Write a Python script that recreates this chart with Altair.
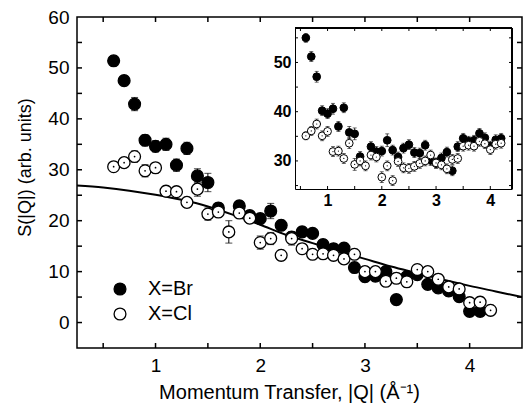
import altair as alt
import pandas as pd

F = "Liberation Sans"

# ---------------- data ----------------
q = [0.6, 0.7, 0.8, 0.9, 1.0, 1.1, 1.2, 1.3, 1.4, 1.5, 1.6, 1.7, 1.8, 1.9, 2.0, 2.1, 2.2, 2.3, 2.4,
     2.5, 2.6, 2.7, 2.8, 2.9, 3.0, 3.1, 3.2, 3.3, 3.4, 3.5, 3.6, 3.7, 3.8, 3.9, 4.0, 4.1, 4.2]

main_br = [51.4, 47.5, 42.9, 35.8, 34.6, 35.0, 30.9, 34.2, 28.8, 27.5, 22.5, None, 22.9, 21.0, 20.4,
           21.9, 19.1, 16.8, 17.8, 17.5, 15.3, 14.5, 14.6, 10.8, 9.0, 9.1, 10.0, 4.5, 9.0, 9.4, 7.5,
           6.8, 6.2, 5.1, 2.2, 2.2, None]
main_br_err = [1.0, 1.0, 1.3, 1.1, 1.1, 1.2, 1.2, 1.2, 1.4, 1.8, 1.0, None, 1.0, 1.0, 1.0, 1.5, 1.0,
               1.0, 1.0, 1.0, 1.0, 1.0, 1.0, 1.0, 1.0, 1.0, 1.0, 1.0, 1.0, 1.0, 1.0, 1.0, 1.0, 1.0,
               1.0, 1.0, None]
main_cl = [30.6, 31.4, 32.6, 29.8, 30.4, 25.8, 25.7, 23.6, 26.2, 21.3, 21.7, 17.8, 21.5, 20.5, 15.7,
           16.5, 13.2, 16.5, 14.5, 13.4, 13.5, 13.2, 12.5, 13.4, 10.0, 10.0, 8.1, 8.7, 8.0, 10.4,
           10.0, 8.5, 7.0, 6.6, 3.9, 4.0, 2.4]
main_cl_err = [0.8, 0.9, 1.1, 1.2, 1.0, 1.0, 1.0, 1.0, 1.4, 1.2, 1.0, 2.2, 1.0, 1.0, 1.3, 1.2, 1.0,
               1.3, 1.0, 1.0, 1.0, 1.0, 1.0, 1.0, 1.0, 1.0, 1.0, 1.0, 1.0, 1.0, 1.0, 1.0, 1.0, 1.0,
               1.0, 1.0, 1.0]

inset_br = [55.0, 51.2, 47.1, 40.2, 39.6, 40.6, 37.0, 40.8, 35.8, 35.5, 30.9, None, 32.9, 31.9, 32.0,
            34.2, 32.2, 30.8, 32.6, 33.3, 31.7, 31.6, 33.2, 30.1, 29.5, 30.6, 31.8, 28.0, 32.9, 34.6,
            34.0, 34.2, 35.6, 34.7, 33.0, 34.3, 34.6]
inset_br_err = [0.9, 1.0, 1.1, 1.0, 1.0, 1.1, 1.0, 1.0, 1.2, 1.2, 1.0, None, 1.0, 1.0, 1.0, 1.3, 1.0,
                1.0, 1.0, 1.0, 1.0, 1.0, 1.0, 1.0, 1.0, 1.0, 1.0, 1.0, 1.0, 1.0, 1.0, 1.0, 1.0, 1.0,
                1.0, 1.0, 1.0]
inset_cl = [35.1, 36.1, 37.5, 35.1, 36.0, 31.9, 32.0, 30.5, 33.6, 29.3, 30.0, 29.0, 31.2, 30.8, 26.7,
            29.0, 26.0, 29.9, 28.6, 28.5, 28.9, 29.5, 30.0, 31.2, 29.6, 29.2, 28.4, 30.3, 30.5, 33.0,
            33.2, 33.0, 34.0, 33.5, 32.3, 33.4, 33.6]
inset_cl_err = [0.8, 0.9, 1.0, 1.0, 1.0, 1.0, 1.0, 1.0, 1.1, 1.2, 1.0, 1.0, 1.0, 1.0, 1.1, 1.0, 1.0,
                1.0, 1.0, 1.0, 1.0, 1.0, 1.0, 1.0, 1.0, 1.0, 1.0, 1.0, 1.0, 1.0, 1.0, 1.0, 1.0, 1.0,
                1.0, 1.0, 1.0]

fit_q = [0.25, 0.5, 0.75, 1.0, 1.25, 1.5, 1.75, 2.0, 2.25, 2.5, 2.75, 3.0, 3.25, 3.5, 3.75, 4.0,
         4.25, 4.5]
fit_s = [26.9, 26.5, 25.9, 25.1, 24.1, 22.8, 21.1, 19.2, 17.2, 15.6, 14.0, 12.5, 11.0, 9.7, 8.4,
         7.2, 6.1, 5.0]

series_names = ["X=Br", "X=Cl"]

main_x_labels = [1, 2, 3, 4]
main_y_labels = [0, 10, 20, 30, 40, 50, 60]
main_x_ticks = [0.5, 1.0, 1.5, 2.0, 2.5, 3.0, 3.5, 4.0]
main_y_ticks = [0, 5, 10, 15, 20, 25, 30, 35, 40, 45, 50, 55]
inset_x_labels = [1, 2, 3, 4]
inset_y_labels = [30, 40, 50]
inset_x_ticks = [0.5, 1.0, 1.5, 2.0, 2.5, 3.0, 3.5, 4.0]
inset_y_ticks = [25, 30, 35, 40, 45, 50, 55]


def build(vals_br, err_br, vals_cl, err_cl):
    rows = []
    for name, vals, errs in [(series_names[0], vals_br, err_br), (series_names[1], vals_cl, err_cl)]:
        for qq, v, e in zip(q, vals, errs):
            if v is None:
                continue
            rows.append({"q": qq, "s": v, "lo": v - e, "hi": v + e, "series": name,
                         "k": len(rows)})
    return pd.DataFrame(rows)


main_df = build(main_br, main_br_err, main_cl, main_cl_err)
inset_df = build(inset_br, inset_br_err, inset_cl, inset_cl_err)
fit_df = pd.DataFrame({"q": fit_q, "s": fit_s})

W, H = 445, 331
IX0, IX1, IY0, IY1 = 218, 435, 11, 172   # inset frame inside the plot area (pixels)

mx = alt.Scale(domain=[0.25, 4.5], nice=False, zero=False)
my = alt.Scale(domain=[-5, 60], nice=False, zero=False)
ix = alt.Scale(domain=[0.4, 4.4], range=[IX0, IX1], nice=False, zero=False)
iy = alt.Scale(domain=[24.3, 57], range=[IY1, IY0], nice=False, zero=False)

fill_scale = alt.Scale(domain=series_names, range=["black", "white"])

# ---------------- main layer ----------------
main_x_axis = alt.Axis(values=main_x_labels, format="d", ticks=False, domain=False, grid=False,
                       labelFont=F, labelFontSize=19, labelColor="black", labelPadding=8,
                       title="Momentum Transfer, |Q| (Å⁻¹)", titleFont=F, titleFontSize=20,
                       titleFontWeight="normal", titleColor="black",
                       titleX=212, titleY=44, titleBaseline="middle")
main_y_axis = alt.Axis(values=main_y_labels, ticks=False, domain=False, grid=False,
                       labelFont=F, labelFontSize=19, labelColor="black", labelPadding=8,
                       title="S(|Q|) (arb. units)", titleFont=F, titleFontSize=18,
                       titleFontWeight="normal", titleColor="black",
                       titleX=-52, titleY=150, titleBaseline="middle", titleAngle=270)

base_main = alt.Chart(main_df)
main_rules = base_main.mark_rule(color="black", strokeWidth=1).encode(
    x=alt.X("q:Q", scale=mx, axis=main_x_axis),
    y=alt.Y("lo:Q", scale=my, axis=main_y_axis),
    y2="hi:Q")
main_caps_hi = base_main.mark_tick(orient="horizontal", size=7, thickness=1, color="black").encode(
    x="q:Q", y="hi:Q")
main_caps_lo = base_main.mark_tick(orient="horizontal", size=7, thickness=1, color="black").encode(
    x="q:Q", y="lo:Q")
fit_line = alt.Chart(fit_df).mark_line(color="black", strokeWidth=2, interpolate="monotone").encode(
    x="q:Q", y="s:Q")
main_pts = base_main.mark_circle(size=140, stroke="black", strokeWidth=1.3, opacity=1).encode(
    x="q:Q", y="s:Q",
    fill=alt.Fill("series:N", scale=fill_scale,
                  legend=alt.Legend(title=None, orient="none", legendX=33, legendY=262,
                                    symbolType="circle", symbolSize=140,
                                    symbolStrokeColor="black", symbolStrokeWidth=1.3,
                                    symbolOpacity=1,
                                    labelFont=F, labelFontSize=20, labelColor="black",
                                    labelOffset=18, rowPadding=5, padding=0)),
    order="k:Q")
main_dots = alt.Chart(main_df).transform_filter(alt.datum.series == "X=Cl").mark_circle(
    size=3, color="black", opacity=1).encode(x="q:Q", y="s:Q")

mxt = alt.Chart(pd.DataFrame({"t": main_x_ticks}))
myt = alt.Chart(pd.DataFrame({"t": main_y_ticks}))
tk = dict(color="black", strokeWidth=1.5)
ticks_bottom = mxt.mark_rule(**tk).encode(x="t:Q", y=alt.value(H), y2=alt.value(H - 5))
ticks_top = mxt.mark_rule(**tk).encode(x="t:Q", y=alt.value(0), y2=alt.value(5))
ticks_left = myt.mark_rule(**tk).encode(y="t:Q", x=alt.value(0), x2=alt.value(5))
ticks_right = myt.mark_rule(**tk).encode(y="t:Q", x=alt.value(W), x2=alt.value(W - 5))

main_layer = alt.layer(main_rules, main_caps_hi, main_caps_lo, fit_line, ticks_bottom, ticks_top,
                       ticks_left, ticks_right, main_pts, main_dots)

# ---------------- inset layer ----------------
inset_x_axis = alt.Axis(orient="bottom", offset=-(H - IY1), values=inset_x_labels, format="d",
                        ticks=False, domain=True, domainColor="black", domainWidth=1, grid=False,
                        labelFont=F, labelFontSize=16, labelFontWeight="bold",
                        labelColor="black", labelPadding=3, title=None)
inset_y_axis = alt.Axis(orient="left", offset=-IX0, values=inset_y_labels, ticks=False,
                        domain=True, domainColor="black", domainWidth=1, grid=False,
                        labelFont=F, labelFontSize=16, labelFontWeight="bold",
                        labelColor="black", labelPadding=4, title=None)

base_in = alt.Chart(inset_df)
in_rules = base_in.mark_rule(color="black", strokeWidth=0.8).encode(
    x=alt.X("q:Q", scale=ix, axis=inset_x_axis),
    y=alt.Y("lo:Q", scale=iy, axis=inset_y_axis),
    y2="hi:Q")
in_caps_hi = base_in.mark_tick(orient="horizontal", size=4, thickness=0.8, color="black").encode(
    x="q:Q", y="hi:Q")
in_caps_lo = base_in.mark_tick(orient="horizontal", size=4, thickness=0.8, color="black").encode(
    x="q:Q", y="lo:Q")
in_pts = base_in.mark_circle(size=60, stroke="black", strokeWidth=1, opacity=1).encode(
    x="q:Q", y="s:Q", fill=alt.Fill("series:N", scale=fill_scale, legend=None), order="k:Q")
in_dots = alt.Chart(inset_df).transform_filter(alt.datum.series == "X=Cl").mark_circle(
    size=1.5, color="black", opacity=1).encode(x="q:Q", y="s:Q")

ixt = alt.Chart(pd.DataFrame({"t": inset_x_ticks}))
iyt = alt.Chart(pd.DataFrame({"t": inset_y_ticks}))
itk = dict(color="black", strokeWidth=1)
in_ticks_bottom = ixt.mark_rule(**itk).encode(x="t:Q", y=alt.value(IY1), y2=alt.value(IY1 - 3))
in_ticks_top = ixt.mark_rule(**itk).encode(x="t:Q", y=alt.value(IY0), y2=alt.value(IY0 + 3))
in_ticks_left = iyt.mark_rule(**itk).encode(y="t:Q", x=alt.value(IX0), x2=alt.value(IX0 + 3))
in_ticks_right = iyt.mark_rule(**itk).encode(y="t:Q", x=alt.value(IX1), x2=alt.value(IX1 - 3))
in_frame_top = ixt.mark_rule(**itk).encode(x=alt.value(IX0), x2=alt.value(IX1), y=alt.value(IY0))
in_frame_right = ixt.mark_rule(**itk).encode(x=alt.value(IX1), y=alt.value(IY0), y2=alt.value(IY1))

inset_layer = alt.layer(in_rules, in_caps_hi, in_caps_lo, in_ticks_bottom, in_ticks_top,
                        in_ticks_left, in_ticks_right, in_frame_top, in_frame_right,
                        in_pts, in_dots)

chart = alt.layer(main_layer, inset_layer).resolve_scale(
    x="independent", y="independent").properties(
    width=W, height=H,
    autosize=alt.AutoSizeParams(type="none"),
    padding={"left": 77, "top": 17, "right": 1, "bottom": 60},
    background="white",
).configure_view(stroke="black", strokeWidth=1.5)

chart.save("out.html", embed_options={"renderer": "svg", "actions": False})
